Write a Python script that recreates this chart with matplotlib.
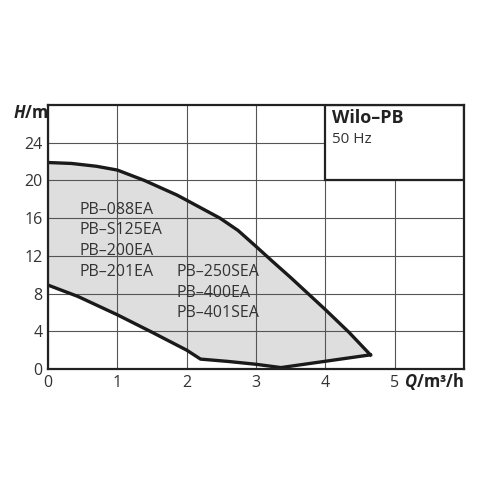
import numpy as np
import matplotlib
matplotlib.use("Agg")
from matplotlib import pyplot as plt
from matplotlib.patches import Rectangle

plt.rcParams['font.family'] = ['Open Sans', 'DejaVu Sans']
plt.rcParams['mathtext.fontset'] = 'custom'
plt.rcParams['mathtext.bfit'] = 'Open Sans:italic:bold'
plt.rcParams['mathtext.bf'] = 'Open Sans:bold'
plt.rcParams['mathtext.rm'] = 'Open Sans'

# upper limit curve (max head)
q_upper = [0, 0.34, 0.7, 1.0, 1.39, 1.86, 2.0, 2.48, 2.74, 3.0, 3.24, 3.5, 3.75, 4.0, 4.34, 4.65]
h_upper = [21.9, 21.8, 21.5, 21.1, 20.0, 18.45, 17.9, 16.0, 14.7, 13.0, 11.4, 9.7, 8.0, 6.3, 3.9, 1.5]

# lower limit curve
q_lower = [0, 0.43, 1.0, 1.5, 2.0, 2.2, 2.6, 3.0, 3.36, 4.0, 4.65]
h_lower = [8.9, 7.7, 5.75, 3.9, 2.0, 1.05, 0.8, 0.5, 0.15, 0.82, 1.5]

models_left = ["PB–088EA", "PB–S125EA", "PB–200EA", "PB–201EA"]
models_right = ["PB–250SEA", "PB–400EA", "PB–401SEA"]

x_ticks = [0, 1, 2, 3, 4, 5]
y_ticks = [0, 4, 8, 12, 16, 20, 24]

fill_col = "#dedede"
txt_col = "#333333"

fig = plt.figure(figsize=(5, 5), dpi=100)
ax = fig.add_axes([0.096, 0.262, 0.832, 0.528])
ax.set_xlim(0, 6)
ax.set_ylim(0, 28)

# shaded operating range
poly_q = q_upper + q_lower[::-1]
poly_h = h_upper + h_lower[::-1]
ax.fill(poly_q, poly_h, color=fill_col, zorder=0.5, lw=0)

ax.set_xticks(x_ticks)
ax.set_yticks(y_ticks)
ax.grid(True, color="#555555", lw=0.8)
for g in ax.get_xgridlines() + ax.get_ygridlines():
    g.set_zorder(1)
ax.tick_params(length=0, labelsize=11.5, labelcolor=txt_col, pad=4)

# masks behind labels so the grid breaks there
ax.add_patch(Rectangle((0.41, 9.1), 1.28, 9.0, color=fill_col, lw=0, zorder=1.5))
ax.add_patch(Rectangle((1.81, 4.5), 1.33, 7.1, color=fill_col, lw=0, zorder=1.5))

ax.plot(q_upper, h_upper, color="#1a1a1a", lw=2.4, zorder=3, solid_joinstyle="round")
ax.plot(q_lower, h_lower, color="#1a1a1a", lw=2.4, zorder=3, solid_joinstyle="round")

for i, s in enumerate(models_left):
    ax.text(0.46, 16.9 - i * 2.2, s, fontsize=11.5, color=txt_col, va="center", zorder=4)
for i, s in enumerate(models_right):
    ax.text(1.86, 10.3 - i * 2.2, s, fontsize=11.5, color=txt_col, va="center", zorder=4)

# title box
ax.add_patch(Rectangle((4, 20), 2, 8, facecolor="white", edgecolor="#222222", lw=1.6, zorder=5))
ax.text(4.1, 26.6, "Wilo–PB", fontsize=13, fontweight="bold", color="#222222", va="center", zorder=6)
ax.text(4.1, 24.3, "50 Hz", fontsize=11, color=txt_col, va="center", zorder=6)

for sp in ax.spines.values():
    sp.set_linewidth(1.6)
    sp.set_color("#222222")
    sp.set_zorder(7)

fig.text(0.026, 0.774, r"$\bfit{H}$/m", fontsize=12, fontweight="bold", color="#222222", va="center")
fig.text(0.928, 0.238, r"$\bfit{Q}$/m³/h", fontsize=12, fontweight="bold", color="#222222", va="center", ha="right")

fig.savefig("out.png", dpi=100)
